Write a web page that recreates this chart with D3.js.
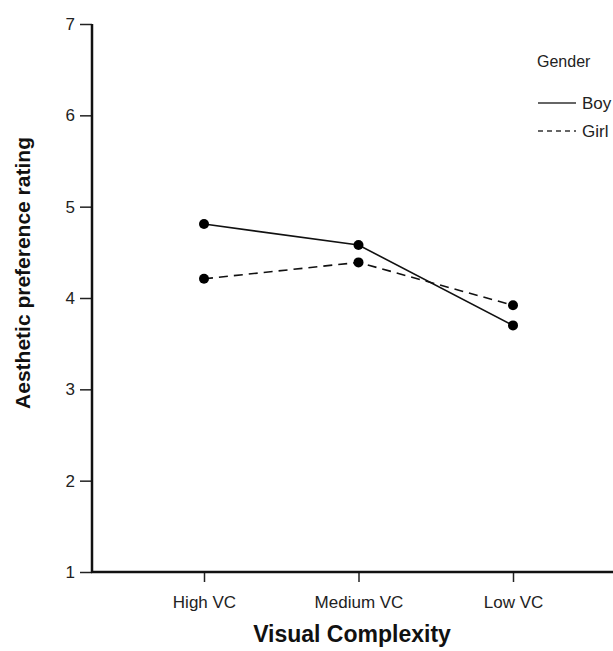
<!doctype html>
<html>
<head>
    <meta charset="UTF-8">
    <title>Aesthetic preference</title>
    <script src="https://d3js.org/d3.v7.min.js"></script>
    <style>
        body { margin: 0; background: #fff; }
        text { font-family: "Liberation Sans", Arial, sans-serif; fill: #222; }
    </style>
</head>
<body>
    <script>
        var categories = ["High VC", "Medium VC", "Low VC"];
        var boy = [4.81, 4.58, 3.70];
        var girl = [4.21, 4.39, 3.92];
        var yTicks = [1, 2, 3, 4, 5, 6, 7];
        var seriesNames = ["Boy", "Girl"];

        var w = 613;
        var h = 651;

        var svg = d3.select("body")
                    .append("svg")
                    .attr("width", w)
                    .attr("height", h);

        var x = d3.scalePoint()
                  .domain(categories)
                  .range([204, 513]);

        var y = d3.scaleLinear()
                  .domain([1, 7])
                  .range([572, 24]);

        // y axis
        var yAxis = svg.append("g")
                       .attr("transform", "translate(92,0)")
                       .call(d3.axisLeft(y).tickValues(yTicks).tickSize(12).tickPadding(5).tickFormat(d3.format("d")));
        yAxis.select(".domain").remove();
        yAxis.selectAll(".tick line").attr("stroke", "#222").attr("stroke-width", 1.5);
        yAxis.selectAll(".tick text").attr("font-size", 17).attr("font-family", null).style("fill", "#222");
        svg.append("line")
           .attr("x1", 92).attr("x2", 92)
           .attr("y1", y(7)).attr("y2", y(1) + 1)
           .attr("stroke", "#111").attr("stroke-width", 2.5);

        // x axis
        var xAxis = svg.append("g")
                       .attr("transform", "translate(0," + y(1) + ")")
                       .call(d3.axisBottom(x).tickSize(10).tickPadding(14));
        xAxis.select(".domain").remove();
        xAxis.selectAll(".tick line").attr("stroke", "#222").attr("stroke-width", 1.5);
        xAxis.selectAll(".tick text").attr("font-size", 17).attr("font-family", null).style("fill", "#222");
        svg.append("line")
           .attr("x1", 91).attr("x2", w)
           .attr("y1", y(1)).attr("y2", y(1))
           .attr("stroke", "#111").attr("stroke-width", 2.5);

        // axis titles
        svg.append("text")
           .attr("x", 352).attr("y", 642)
           .attr("text-anchor", "middle")
           .attr("font-size", 23).attr("font-weight", "bold")
           .style("fill", "#111")
           .text("Visual Complexity");

        svg.append("text")
           .attr("transform", "translate(30,273) rotate(-90)")
           .attr("text-anchor", "middle")
           .attr("font-size", 21).attr("font-weight", "bold")
           .style("fill", "#111")
           .text("Aesthetic preference rating");

        // series
        var series = [
            { name: seriesNames[0], values: boy, dash: null },
            { name: seriesNames[1], values: girl, dash: "9,6" }
        ];

        var line = d3.line()
                     .x(function(d, i){ return x(categories[i]); })
                     .y(function(d){ return y(d); });

        svg.selectAll("path.series")
           .data(series)
           .enter()
           .append("path")
           .attr("class", "series")
           .attr("d", function(d){ return line(d.values); })
           .attr("fill", "none")
           .attr("stroke", "#111")
           .attr("stroke-width", 1.6)
           .attr("stroke-dasharray", function(d){ return d.dash; });

        series.forEach(function(s){
            svg.selectAll(null)
               .data(s.values)
               .enter()
               .append("circle")
               .attr("cx", function(d, i){ return x(categories[i]); })
               .attr("cy", function(d){ return y(d); })
               .attr("r", 5)
               .attr("fill", "#000");
        });

        // legend
        var legend = svg.append("g").attr("transform", "translate(537,0)");
        legend.append("text")
              .attr("x", 0).attr("y", 67)
              .attr("font-size", 16)
              .text("Gender");
        var items = legend.selectAll("g.item")
                          .data(series)
                          .enter()
                          .append("g")
                          .attr("class", "item")
                          .attr("transform", function(d, i){ return "translate(0," + (103 + i * 28) + ")"; });
        items.append("line")
             .attr("x1", 1).attr("x2", 39)
             .attr("y1", 0).attr("y2", 0)
             .attr("stroke", "#333")
             .attr("stroke-width", 1.5)
             .attr("stroke-dasharray", function(d){ return d.dash ? "5,4" : null; });
        items.append("text")
             .attr("x", 45).attr("y", 6)
             .attr("font-size", 17)
             .text(function(d){ return d.name; });
    </script>
</body>
</html>
